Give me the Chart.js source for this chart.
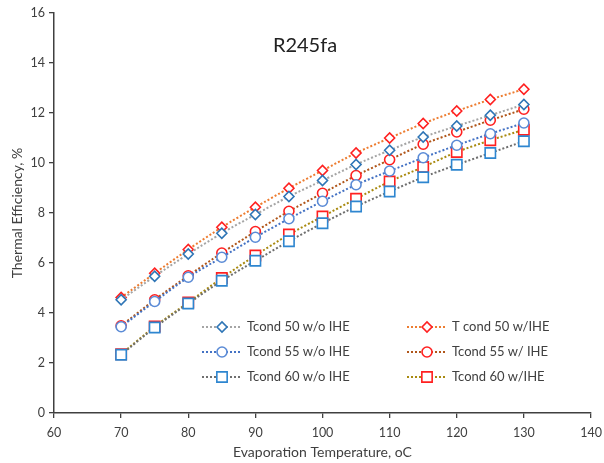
<!DOCTYPE html>
<html>
<head>
<meta charset="utf-8">
<script src="https://cdn.jsdelivr.net/npm/chart.js@4.4.1/dist/chart.umd.min.js"></script>
<style>
html,body{margin:0;padding:0;background:#fff;}
#wrap{width:604px;height:463px;position:relative;}
</style>
</head>
<body>
<div id="wrap"><canvas id="c" width="604" height="463"></canvas></div>
<script>
const temps = [70, 75, 80, 85, 90, 95, 100, 105, 110, 115, 120, 125, 130];
const t50noIHE = [4.53, 5.47, 6.36, 7.19, 7.94, 8.66, 9.30, 9.94, 10.51, 11.04, 11.48, 11.91, 12.34];
const t50IHE   = [4.62, 5.59, 6.54, 7.43, 8.23, 8.99, 9.70, 10.40, 11.00, 11.58, 12.08, 12.54, 12.95];
const t55noIHE = [3.45, 4.46, 5.43, 6.23, 7.03, 7.77, 8.47, 9.13, 9.68, 10.21, 10.71, 11.17, 11.60];
const t55IHE   = [3.49, 4.53, 5.49, 6.40, 7.26, 8.07, 8.79, 9.50, 10.13, 10.75, 11.24, 11.71, 12.15];
const t60noIHE = [2.33, 3.42, 4.38, 5.29, 6.09, 6.87, 7.59, 8.26, 8.86, 9.43, 9.93, 10.40, 10.87];
const t60IHE   = [2.35, 3.46, 4.42, 5.40, 6.30, 7.14, 7.86, 8.57, 9.26, 9.84, 10.44, 10.91, 11.33];
const labels = ["Tcond 50 w/o IHE", "T cond 50 w/IHE", "Tcond 55 w/o IHE", "Tcond 55 w/ IHE", "Tcond 60 w/o IHE", "Tcond 60 w/IHE"];
const chartTitle = "R245fa";
const xTitle = "Evaporation Temperature, oC";
const yTitle = "Thermal Efficiency, %";

const FONT = "Lato, 'Open Sans', sans-serif";
const styles = [
  {line:'#A5A5A5', mk:'#2E75B6', ps:'rectRot', r:5},
  {line:'#ED7D31', mk:'#FF2020', ps:'rectRot', r:5},
  {line:'#4472C4', mk:'#5B8BD6', ps:'circle', r:5},
  {line:'#B0561A', mk:'#FF2020', ps:'circle', r:5},
  {line:'#6F6F6F', mk:'#2E86D0', ps:'rect', r:7.3},
  {line:'#A98A10', mk:'#FF2020', ps:'rect', r:7.3}
];
const series = [t50noIHE, t50IHE, t55noIHE, t55IHE, t60noIHE, t60IHE];

const datasets = series.map((s, i) => ({
  label: labels[i],
  data: temps.map((t, j) => ({x: t, y: s[j]})),
  borderColor: styles[i].line,
  borderWidth: 2,
  borderDash: [2, 2],
  pointStyle: styles[i].ps,
  pointRadius: styles[i].r,
  pointBorderColor: styles[i].mk,
  pointBackgroundColor: '#ffffff',
  pointBorderWidth: 1.6,
  tension: 0.25,
  fill: false
}));

const legendOrder = [[0,1],[2,3],[4,5]];
const legendPlugin = {
  id: 'inlegend',
  afterDatasetsDraw(chart) {
    const ctx = chart.ctx;
    const cols = [{x0:202, x1:240, mx:222, tx:247}, {x0:407, x1:445, mx:427, tx:452}];
    const rows = [327, 352, 377];
    ctx.save();
    legendOrder.forEach((pair, r) => {
      pair.forEach((di, c) => {
        const col = cols[c], y = rows[r], st = styles[di];
        ctx.save();
        ctx.strokeStyle = st.line; ctx.lineWidth = 2; ctx.setLineDash([2,2]);
        ctx.beginPath(); ctx.moveTo(col.x0, y); ctx.lineTo(col.x1, y); ctx.stroke();
        ctx.restore();
        ctx.save();
        ctx.setLineDash([]);
        ctx.fillStyle = '#fff'; ctx.strokeStyle = st.mk; ctx.lineWidth = 1.6;
        ctx.beginPath();
        Chart.helpers.drawPoint(ctx, {pointStyle: st.ps, rotation: 0, borderWidth: 1.6, radius: st.r}, col.mx, y);
        ctx.restore();
        ctx.fillStyle = '#404040';
        ctx.font = "13px " + FONT;
        ctx.textBaseline = 'middle';
        ctx.textAlign = 'left';
        ctx.fillText(labels[di], col.tx, y);
      });
    });
    ctx.fillStyle = '#222';
    ctx.font = "20px " + FONT;
    ctx.textAlign = 'center';
    ctx.textBaseline = 'middle';
    ctx.fillText(chartTitle, 305, 46);
    ctx.restore();
  }
};

new Chart(document.getElementById('c'), {
  type: 'line',
  data: {datasets},
  options: {
    responsive: false,
    animation: false,
    layout: {padding: {left: 0, right: 13, top: 13, bottom: 0}},
    plugins: {legend: {display: false}, tooltip: {enabled: false}, title: {display: false}},
    scales: {
      x: {
        type: 'linear', min: 60, max: 140,
        ticks: {stepSize: 10, color: '#404040', font: {size: 12.5, family: FONT}, padding: 7},
        grid: {drawOnChartArea: false, drawTicks: true, tickLength: 5, color: '#404040', lineWidth: 1.3},
        border: {display: true, color: '#404040', width: 1.5},
        title: {display: true, text: xTitle, color: '#404040', font: {size: 14, family: FONT}, padding: {top: 0, bottom: 2}},
        afterFit(s) { s.height = 50; s.paddingRight = 0; s.paddingLeft = 0; }
      },
      y: {
        type: 'linear', min: 0, max: 16,
        ticks: {stepSize: 2, color: '#404040', font: {size: 12.5, family: FONT}, padding: 4},
        grid: {drawOnChartArea: false, drawTicks: true, tickLength: 5, color: '#404040', lineWidth: 1.3},
        border: {display: true, color: '#404040', width: 1.5},
        title: {display: true, text: yTitle, color: '#404040', font: {size: 14, family: FONT}, padding: {top: 9, bottom: 0}},
        afterFit(s) { s.width = 54; s.paddingTop = 0; s.paddingBottom = 0; }
      }
    }
  },
  plugins: [legendPlugin]
});
</script>
</body>
</html>
